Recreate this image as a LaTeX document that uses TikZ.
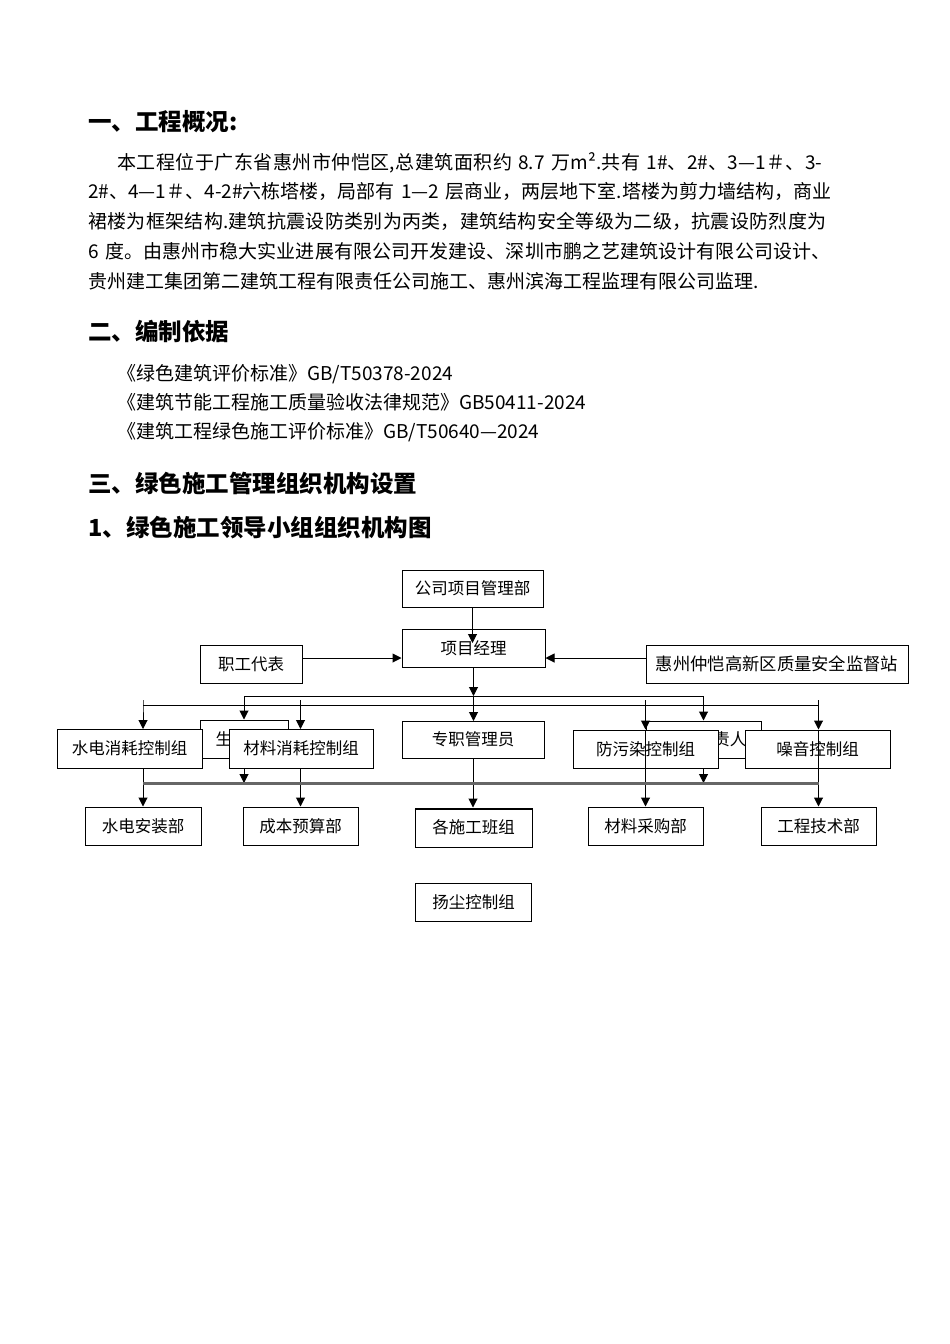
\documentclass[tikz,border=0pt]{standalone}
\usepackage{fontspec}
\setmainfont{Noto Sans CJK SC}
\usetikzlibrary{positioning, arrows.meta}
\XeTeXlinebreaklocale "zh"
\XeTeXlinebreakskip=0pt plus 2pt minus 1pt

\begin{document}
\begin{tikzpicture}[
  x=1pt, y=-1pt,
  box/.style={draw, line width=1pt, fill=white, inner sep=0pt, minimum height=38pt, font=\fontsize{16.5}{18}\selectfont},
  link/.style={line width=1pt, -{Triangle[length=9pt, width=9pt]}},
  busbar/.style={line width=3pt, black!60},
  head/.style={anchor=base west, inner sep=0pt, font=\fontsize{23.5}{28}\selectfont\bfseries},
  para/.style={anchor=base west, inner sep=0pt, text width=744pt, font=\fontsize{19}{29.75}\selectfont, execute at begin node={\parfillskip=0pt\relax}},
  citeline/.style={anchor=base west, inner sep=0pt, font=\fontsize{19}{29.75}\selectfont}
]
  \path[fill=white] (0,0) rectangle (950,1344);
  \useasboundingbox (0,0) rectangle (950,1344);

  % text part
  \node[head] (h1) at (88,130) {一、工程概况:};
  \node[para] (p1) at (88,169) {\hspace*{29pt}本工程位于广东省惠州市仲恺区,总建筑面积约 8.7 万m².共有 1\#、2\#、3—1＃、3-};
  \node[para] (p2) at (88,198.75) {2\#、4—1＃、4-2\#六栋塔楼，局部有 1—2 层商业，两层地下室.塔楼为剪力墙结构，商业};
  \node[para] (p3) at (88,228.5) {裙楼为框架结构.建筑抗震设防类别为丙类，建筑结构安全等级为二级，抗震设防烈度为};
  \node[para] (p4) at (88,258.25) {6 度。由惠州市稳大实业进展有限公司开发建设、深圳市鹏之艺建筑设计有限公司设计、};
  \node[citeline] (p5) at (88,288) {贵州建工集团第二建筑工程有限责任公司施工、惠州滨海工程监理有限公司监理.};

  \node[head] (h2) at (88,340) {二、编制依据};
  \node[citeline] (r1) at (117,380) {《绿色建筑评价标准》GB/T50378-2024};
  \node[citeline] (r2) at (117,409) {《建筑节能工程施工质量验收法律规范》GB50411-2024};
  \node[citeline] (r3) at (117,438) {《建筑工程绿色施工评价标准》GB/T50640—2024};

  \node[head] (h3) at (88,492) {三、绿色施工管理组织机构设置};
  \node[head] (h4) at (88,536) {1、绿色施工领导小组组织机构图};

  % bus levels
  \coordinate (pmin) at (0,643);
  \coordinate (side) at (0,658);
  \coordinate (busA) at (0,696);
  \coordinate (busT) at (0,700);
  \coordinate (busB) at (0,705);
  \coordinate (busC) at (0,783);

  % top
  \node[box, minimum width=141pt, minimum height=37pt] (comp) at (472.5,588.5) {公司项目管理部};
  \node[box, minimum width=143pt] (pm) at (473.5,648) {项目经理};
  \node[box, minimum width=102pt] (staff) at (251,664) {职工代表};
  \node[box, minimum width=262pt, font=\fontsize{17.3}{19}\selectfont] (station) at (777,664) {惠州仲恺高新区质量安全监督站};

  \draw[link] (comp.south) -- (comp.south |- pmin);
  \draw[link] (staff.east |- side) -- (pm.west |- side);
  \draw[link] (station.west |- side) -- (pm.east |- side);

  % boxes partly hidden
  \node[box, minimum width=88pt] (hidL) at (244,739) {};
  \node[anchor=west, inner sep=0pt, font=\fontsize{16.5}{18}\selectfont] (hidLt) at ([xshift=16pt]hidL.west) {生};
  \node[box, minimum width=115pt, minimum height=37pt] (hidR) at (703.5,739.5) {};
  \node[anchor=east, inner sep=0pt, font=\fontsize{16.5}{18}\selectfont] (hidRt) at ([xshift=-15pt]hidR.east) {责人};

  \draw[link] (pm.south) -- (pm.south |- busA);
  \draw (hidL.north |- busA) -- (hidR.north |- busA);
  \draw[link] (hidL.north |- busA) -- (hidL.north);
  \draw[link] (hidR.north |- busA) -- (hidR.north);
  \draw[link] (hidL.south) -- (hidL.south |- busC);
  \draw[link] (hidR.south) -- (hidR.south |- busC);

  % row 3 first, for the x of the columns
  \node[box, minimum width=116pt] (install) at (143,826) {水电安装部};
  \node[box, minimum width=115pt] (cost) at (300.5,826) {成本预算部};
  \node[box, minimum width=117pt, minimum height=39pt] (teams) at (473.5,827.5) {各施工班组};
  \node[box, minimum width=115pt] (purch) at (645.5,826) {材料采购部};
  \node[box, minimum width=115pt] (tech) at (818.5,826) {工程技术部};
  \node[box, minimum width=116pt, below=35pt of teams] (dust) {扬尘控制组};
  \draw[line width=1pt] ([yshift=-2pt]teams.north west) -- ([yshift=-2pt]teams.north east);

  \draw (install |- busB) -- (tech |- busB);
  \draw[link] (install |- busT) -- (install |- busB) -- ++(0,24);
  \draw[link] (cost |- busT) -- (cost |- busB) -- ++(0,24);
  \draw[link] (pm.south |- busA) -- ++(0,25);

  % row 2
  \node[box, minimum width=145pt, minimum height=39pt] (water) at (129.5,748.5) {水电消耗控制组};
  \node[box, minimum width=144pt, minimum height=39pt] (matctl) at (301,748.5) {材料消耗控制组};
  \node[box, minimum width=142pt, minimum height=37pt] (admin) at (473,739.5) {专职管理员};
  \node[box, minimum width=145pt] (poll) at (645.5,749) {防污染控制组};
  \node[box, minimum width=145pt] (noise) at (817.5,749) {噪音控制组};

  \draw[link] (purch |- busT) -- (purch |- poll.north);
  \draw[link] (purch |- poll.north) -- (purch.north);
  \draw[link] (tech |- busT) -- (tech |- noise.north);
  \draw[link] (tech |- noise.north) -- (tech.north);

  \draw[link] (install |- water.south) -- (install.north);
  \draw[link] (cost |- matctl.south) -- (cost.north);
  \draw[link] (admin.south) -- (admin.south |- teams.north);

  \draw[busbar] (install |- busC) -- (tech |- busC);
\end{tikzpicture}
\end{document}
